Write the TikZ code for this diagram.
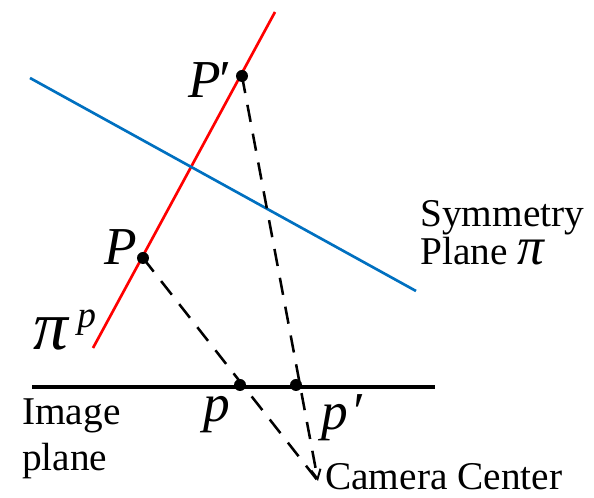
\documentclass[tikz,border=0pt]{standalone}
\usepackage{fontspec}
\setmainfont{Liberation Serif}
\usetikzlibrary{arrows.meta}
\begin{document}
\begin{tikzpicture}[x=0.75pt,y=-0.75pt,
  dot/.style={circle,fill=black,inner sep=0pt,minimum size=9pt},
  dashln/.style={line width=1.9pt,dash pattern=on 13pt off 9pt},
  txt/.style={font=\fontsize{29.5}{34}\selectfont,anchor=base west,inner sep=0pt},
  big/.style={font=\fontsize{40}{44}\selectfont\itshape,anchor=base west,inner sep=0pt}]
\useasboundingbox (0,0) rectangle (594,498);
% lines
\coordinate (r1) at (93,348); \coordinate (r2) at (275,12);
\coordinate (b1) at (30,78); \coordinate (b2) at (416,291);
\coordinate (i1) at (32,387); \coordinate (i2) at (435,387);
\coordinate (C) at (318,481);
\draw[red,line width=2pt] (r1) -- (r2);
\draw[color={rgb,255:red,0;green,112;blue,192},line width=2pt] (b1) -- (b2);
\draw[black,line width=2.3pt] (i1) -- (i2);
\node[dot] (Pp) at (242,76) {};
\node[dot] (P) at (143,258) {};
\node[dot] (p) at (240,385) {};
\node[dot] (pp) at (296,385) {};
\draw[dashln] (P.center) -- (C);
\draw[dashln,-{Straight Barb[length=7pt,width=7pt,line width=1.5pt]}] (Pp.center) -- (C);
% labels
\node[big] (lPp) at (188,98) {P\kern-3pt′};
\node[big] (lP) at (104,265) {P};
\node[big] (lpi) at (33,350) {{\fontsize{52}{52}\selectfont π}\kern7pt\raisebox{17pt}{\fontsize{28}{28}\selectfont p}};
\node[big] (lp) at (203,422) {p};
\node[big] (lpp) at (321,430) {p\kern2pt′};
\node[txt] (cam) at (325,490) {Camera Center};
\node[txt] (sym1) at (420,227) {Symmetry};
\node[txt] (sym2) at (420,265) {Plane {\itshape\fontsize{40}{40}\selectfont π}};
\node[txt] (img1) at (22,425) {Image};
\node[txt] (img2) at (22,471) {plane};
\end{tikzpicture}
\end{document}
